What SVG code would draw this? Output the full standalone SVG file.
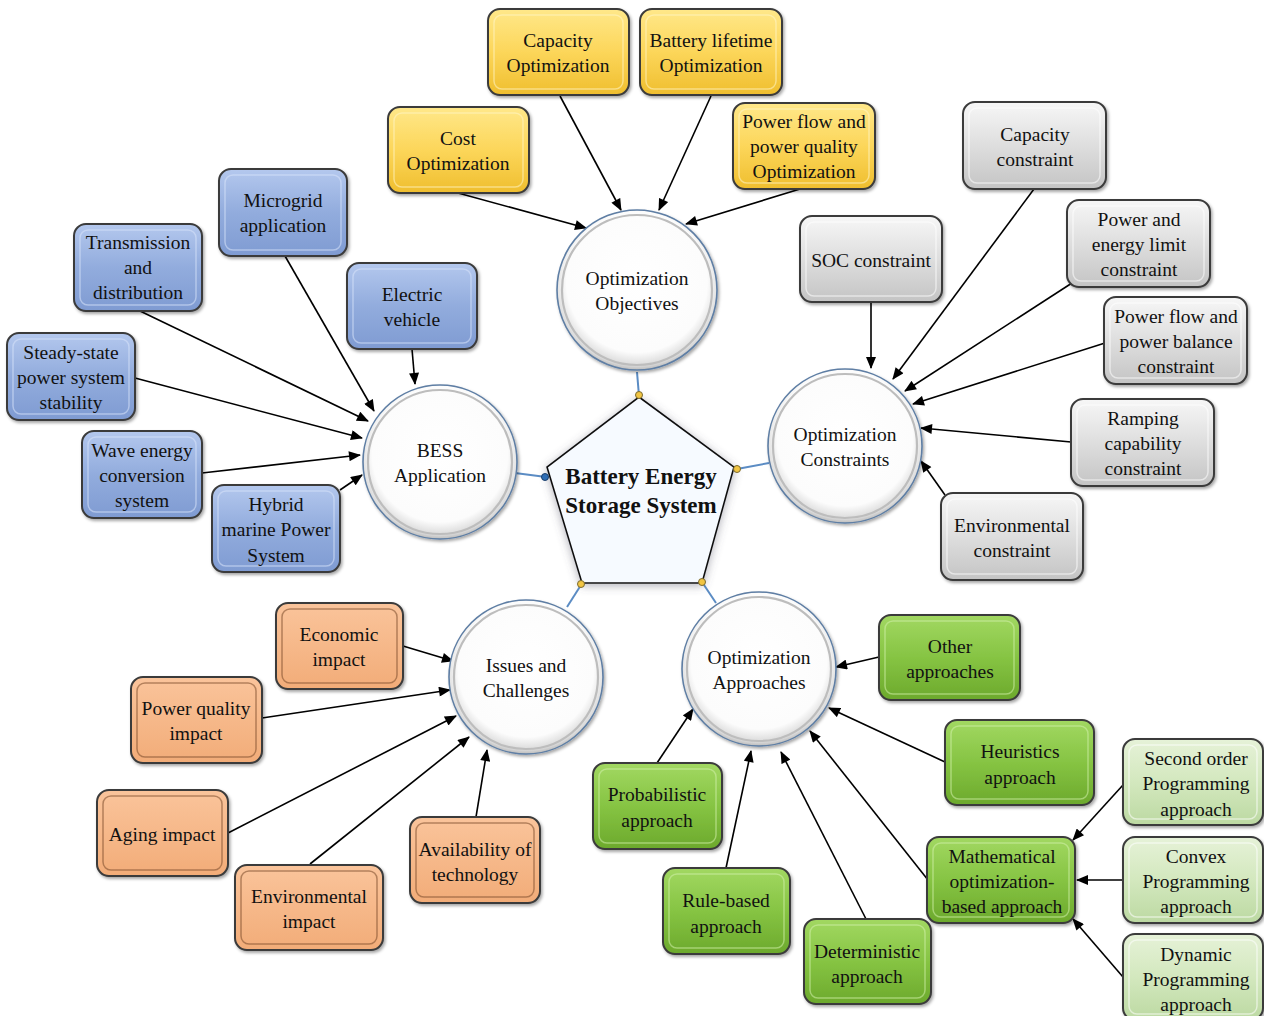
<svg xmlns="http://www.w3.org/2000/svg" width="1264" height="1016" viewBox="0 0 1264 1016">
<defs>
<linearGradient id="gY" x1="0" y1="0" x2="0" y2="1"><stop offset="0" stop-color="#FFE88A"/><stop offset="0.5" stop-color="#FCD65A"/><stop offset="1" stop-color="#EFBE2E"/></linearGradient>
<linearGradient id="gB" x1="0" y1="0" x2="0" y2="1"><stop offset="0" stop-color="#B4C8EE"/><stop offset="0.5" stop-color="#92ACDD"/><stop offset="1" stop-color="#7F9BD2"/></linearGradient>
<linearGradient id="gG" x1="0" y1="0" x2="0" y2="1"><stop offset="0" stop-color="#F7F7F7"/><stop offset="0.5" stop-color="#DEDEDE"/><stop offset="1" stop-color="#C4C4C4"/></linearGradient>
<linearGradient id="gO" x1="0" y1="0" x2="0" y2="1"><stop offset="0" stop-color="#FAC49B"/><stop offset="1" stop-color="#F2AC78"/></linearGradient>
<linearGradient id="gN" x1="0" y1="0" x2="0" y2="1"><stop offset="0" stop-color="#A2D862"/><stop offset="0.5" stop-color="#86C443"/><stop offset="1" stop-color="#6CA92C"/></linearGradient>
<linearGradient id="gL" x1="0" y1="0" x2="0" y2="1"><stop offset="0" stop-color="#E6F2D8"/><stop offset="0.5" stop-color="#D3E8BE"/><stop offset="1" stop-color="#BCD9A2"/></linearGradient>
<radialGradient id="gC" cx="0.5" cy="0.45" r="0.55"><stop offset="0" stop-color="#FFFFFF"/><stop offset="0.8" stop-color="#FCFCFC"/><stop offset="0.95" stop-color="#DADADA"/><stop offset="1" stop-color="#BBBBBB"/></radialGradient>
<filter id="sh" x="-20%" y="-20%" width="140%" height="140%"><feDropShadow dx="1.5" dy="2" stdDeviation="1.8" flood-color="#000" flood-opacity="0.35"/></filter>
<filter id="glow" x="-20%" y="-20%" width="140%" height="140%"><feDropShadow dx="0" dy="2" stdDeviation="5" flood-color="#556" flood-opacity="0.45"/></filter>
<marker id="ar" viewBox="0 0 12 10" refX="11" refY="5" markerWidth="13" markerHeight="10" markerUnits="userSpaceOnUse" orient="auto"><path d="M0,0 L12,5 L0,10 Z" fill="#000"/></marker>
<style>
.box{stroke:#3a3a3a;stroke-width:2;filter:url(#sh)}
.in{fill:none;stroke-width:1.5;stroke-opacity:0.55}
.y{fill:url(#gY)} .yi{stroke:#FFF6C8}
.b{fill:url(#gB)} .bi{stroke:#D8E4FA}
.g{fill:url(#gG)} .gi{stroke:#FFFFFF}
.o{fill:url(#gO)} .oi{stroke:#7a4a2a}
.n{fill:url(#gN)} .ni{stroke:#D2F0AA}
.l{fill:url(#gL)} .li{stroke:#FFFFFF}
text{font-family:"Liberation Serif","Times New Roman",serif;font-size:19.5px;fill:#111;text-anchor:middle}
.c{fill:url(#gC);stroke:#5E7EA4;stroke-width:1.6;filter:url(#sh)}
.ci{fill:none;stroke:#BDBDBD;stroke-width:2.2}
.cn line{stroke:#000;stroke-width:1.6;marker-end:url(#ar)}
.hub line{stroke:#5B8CC4;stroke-width:2}
.dot{fill:#F2C542;stroke:#7A6A30;stroke-width:1}
.title{font-weight:bold;font-size:23px}
</style>
</defs>
<rect width="1264" height="1016" fill="#FFFFFF"/>

<!-- hub connectors -->
<g class="hub" id="hub-links">
<line x1="637" y1="372" x2="639" y2="396"/>
<line x1="515" y1="473" x2="546" y2="477"/>
<line x1="769" y1="463" x2="737" y2="469"/>
<line x1="581" y1="585" x2="567" y2="607"/>
<line x1="702" y1="582" x2="716" y2="603"/>
</g>

<!-- connectors -->
<g class="cn" id="connectors">
<line x1="560" y1="96" x2="621" y2="210"/>
<line x1="711" y1="96" x2="659" y2="210"/>
<line x1="458" y1="193" x2="586" y2="228"/>
<line x1="800" y1="189" x2="686" y2="224"/>
<line x1="285" y1="256" x2="374" y2="411"/>
<line x1="140" y1="311" x2="368" y2="421"/>
<line x1="412" y1="349" x2="415" y2="384"/>
<line x1="135" y1="378" x2="362" y2="438"/>
<line x1="202" y1="473" x2="360" y2="455"/>
<line x1="340" y1="490" x2="362" y2="475"/>
<line x1="871" y1="302" x2="871" y2="368"/>
<line x1="1034" y1="189" x2="893" y2="379"/>
<line x1="1072" y1="283" x2="905" y2="391"/>
<line x1="1105" y1="343" x2="913" y2="404"/>
<line x1="1071" y1="442" x2="921" y2="428"/>
<line x1="945" y1="495" x2="921" y2="461"/>
<line x1="403" y1="646" x2="453" y2="661"/>
<line x1="262" y1="718" x2="450" y2="690"/>
<line x1="228" y1="833" x2="456" y2="716"/>
<line x1="310" y1="864" x2="469" y2="737"/>
<line x1="476" y1="817" x2="487" y2="750"/>
<line x1="879" y1="657" x2="836" y2="667"/>
<line x1="945" y1="762" x2="829" y2="708"/>
<line x1="657" y1="763" x2="693" y2="709"/>
<line x1="726" y1="868" x2="751" y2="751"/>
<line x1="866" y1="919" x2="781" y2="752"/>
<line x1="928" y1="880" x2="810" y2="731"/>
<line x1="1123" y1="785" x2="1073" y2="840"/>
<line x1="1123" y1="880" x2="1077" y2="880"/>
<line x1="1123" y1="977" x2="1073" y2="919"/>
</g>

<!-- central pentagon -->
<g id="bess-core">
<polygon points="639,397 734,467 702,583 582,583 547,467" fill="#F6FAFF" stroke="#111" stroke-width="1.6" filter="url(#glow)"/>
<text class="title" x="641" y="484">Battery Energy</text>
<text class="title" x="641" y="513">Storage System</text>
<circle class="dot" cx="639" cy="395" r="3.5"/>
<circle class="dot" cx="737" cy="469" r="3.5"/>
<circle cx="545" cy="477" r="3.5" fill="#2E6DB4" stroke="#1B3F6B"/>
<circle class="dot" cx="581" cy="584" r="3.5"/>
<circle class="dot" cx="702" cy="582" r="3.5"/>
</g>

<!-- hub circles -->
<g id="opt-objectives"><circle class="c" cx="637" cy="290" r="80"/><circle class="ci" cx="637" cy="290" r="75"/><text x="637" y="285">Optimization</text><text x="637" y="310">Objectives</text></g>
<g id="bess-application"><circle class="c" cx="440" cy="462" r="77"/><circle class="ci" cx="440" cy="462" r="72"/><text x="440" y="457">BESS</text><text x="440" y="482">Application</text></g>
<g id="opt-constraints"><circle class="c" cx="845" cy="446" r="77"/><circle class="ci" cx="845" cy="446" r="72"/><text x="845" y="441">Optimization</text><text x="845" y="466">Constraints</text></g>
<g id="issues"><circle class="c" cx="526" cy="677" r="77"/><circle class="ci" cx="526" cy="677" r="72"/><text x="526" y="672">Issues and</text><text x="526" y="697">Challenges</text></g>
<g id="opt-approaches"><circle class="c" cx="759" cy="669" r="77"/><circle class="ci" cx="759" cy="669" r="72"/><text x="759" y="664">Optimization</text><text x="759" y="689">Approaches</text></g>

<!-- yellow -->
<g id="capacity-opt"><rect class="box y" x="488" y="9" width="141" height="86" rx="12"/><rect class="in yi" x="494" y="15" width="129" height="74" rx="8"/><text x="558" y="47">Capacity</text><text x="558" y="72">Optimization</text></g>
<g id="lifetime-opt"><rect class="box y" x="640" y="9" width="142" height="86" rx="12"/><rect class="in yi" x="646" y="15" width="130" height="74" rx="8"/><text x="711" y="47">Battery lifetime</text><text x="711" y="72">Optimization</text></g>
<g id="cost-opt"><rect class="box y" x="388" y="107" width="141" height="86" rx="12"/><rect class="in yi" x="394" y="113" width="129" height="74" rx="8"/><text x="458" y="145">Cost</text><text x="458" y="170">Optimization</text></g>
<g id="powerflow-opt"><rect class="box y" x="733" y="103" width="142" height="86" rx="12"/><rect class="in yi" x="739" y="109" width="130" height="74" rx="8"/><text x="804" y="128">Power flow and</text><text x="804" y="153">power quality</text><text x="804" y="178">Optimization</text></g>

<!-- blue -->
<g id="microgrid"><rect class="box b" x="219" y="169" width="128" height="87" rx="12"/><rect class="in bi" x="225" y="175" width="116" height="75" rx="8"/><text x="283" y="207">Microgrid</text><text x="283" y="232">application</text></g>
<g id="transmission"><rect class="box b" x="74" y="224" width="128" height="87" rx="12"/><rect class="in bi" x="80" y="230" width="116" height="75" rx="8"/><text x="138" y="249">Transmission</text><text x="138" y="274">and</text><text x="138" y="299">distribution</text></g>
<g id="electric-vehicle"><rect class="box b" x="347" y="263" width="130" height="86" rx="12"/><rect class="in bi" x="353" y="269" width="118" height="74" rx="8"/><text x="412" y="301">Electric</text><text x="412" y="326">vehicle</text></g>
<g id="steady-state"><rect class="box b" x="7" y="333" width="128" height="87" rx="12"/><rect class="in bi" x="13" y="339" width="116" height="75" rx="8"/><text x="71" y="359">Steady-state</text><text x="71" y="384">power system</text><text x="71" y="409">stability</text></g>
<g id="wave-energy"><rect class="box b" x="82" y="431" width="120" height="87" rx="12"/><rect class="in bi" x="88" y="437" width="108" height="75" rx="8"/><text x="142" y="457">Wave energy</text><text x="142" y="482">conversion</text><text x="142" y="507">system</text></g>
<g id="hybrid-marine"><rect class="box b" x="212" y="485" width="128" height="87" rx="12"/><rect class="in bi" x="218" y="491" width="116" height="75" rx="8"/><text x="276" y="511">Hybrid</text><text x="276" y="536">marine Power</text><text x="276" y="562">System</text></g>

<!-- grey -->
<g id="capacity-con"><rect class="box g" x="963" y="102" width="143" height="87" rx="12"/><rect class="in gi" x="969" y="108" width="131" height="75" rx="8"/><text x="1035" y="141">Capacity</text><text x="1035" y="166">constraint</text></g>
<g id="soc-con"><rect class="box g" x="800" y="216" width="142" height="86" rx="12"/><rect class="in gi" x="806" y="222" width="130" height="74" rx="8"/><text x="871" y="267">SOC constraint</text></g>
<g id="power-energy-con"><rect class="box g" x="1067" y="200" width="143" height="87" rx="12"/><rect class="in gi" x="1073" y="206" width="131" height="75" rx="8"/><text x="1139" y="226">Power and</text><text x="1139" y="251">energy limit</text><text x="1139" y="276">constraint</text></g>
<g id="powerflow-con"><rect class="box g" x="1104" y="297" width="143" height="87" rx="12"/><rect class="in gi" x="1110" y="303" width="131" height="75" rx="8"/><text x="1176" y="323">Power flow and</text><text x="1176" y="348">power balance</text><text x="1176" y="373">constraint</text></g>
<g id="ramping-con"><rect class="box g" x="1071" y="399" width="143" height="87" rx="12"/><rect class="in gi" x="1077" y="405" width="131" height="75" rx="8"/><text x="1143" y="425">Ramping</text><text x="1143" y="450">capability</text><text x="1143" y="475">constraint</text></g>
<g id="environmental-con"><rect class="box g" x="941" y="493" width="142" height="87" rx="12"/><rect class="in gi" x="947" y="499" width="130" height="75" rx="8"/><text x="1012" y="532">Environmental</text><text x="1012" y="557">constraint</text></g>

<!-- orange -->
<g id="economic"><rect class="box o" x="276" y="603" width="127" height="86" rx="12"/><rect class="in oi" x="282" y="609" width="115" height="74" rx="8"/><text x="339" y="641">Economic</text><text x="339" y="666">impact</text></g>
<g id="power-quality"><rect class="box o" x="131" y="677" width="131" height="86" rx="12"/><rect class="in oi" x="137" y="683" width="119" height="74" rx="8"/><text x="196" y="715">Power quality</text><text x="196" y="740">impact</text></g>
<g id="aging"><rect class="box o" x="97" y="790" width="131" height="86" rx="12"/><rect class="in oi" x="103" y="796" width="119" height="74" rx="8"/><text x="162" y="841">Aging impact</text></g>
<g id="environmental-impact"><rect class="box o" x="235" y="865" width="148" height="85" rx="12"/><rect class="in oi" x="241" y="871" width="136" height="73" rx="8"/><text x="309" y="903">Environmental</text><text x="309" y="928">impact</text></g>
<g id="availability"><rect class="box o" x="410" y="817" width="130" height="86" rx="12"/><rect class="in oi" x="416" y="823" width="118" height="74" rx="8"/><text x="475" y="856">Availability of</text><text x="475" y="881">technology</text></g>

<!-- green -->
<g id="other"><rect class="box n" x="879" y="615" width="141" height="85" rx="12"/><rect class="in ni" x="885" y="621" width="129" height="73" rx="8"/><text x="950" y="653">Other</text><text x="950" y="678">approaches</text></g>
<g id="heuristics"><rect class="box n" x="945" y="720" width="149" height="85" rx="12"/><rect class="in ni" x="951" y="726" width="137" height="73" rx="8"/><text x="1020" y="758">Heuristics</text><text x="1020" y="784">approach</text></g>
<g id="probabilistic"><rect class="box n" x="593" y="763" width="129" height="86" rx="12"/><rect class="in ni" x="599" y="769" width="117" height="74" rx="8"/><text x="657" y="801">Probabilistic</text><text x="657" y="827">approach</text></g>
<g id="rule-based"><rect class="box n" x="663" y="868" width="127" height="86" rx="12"/><rect class="in ni" x="669" y="874" width="115" height="74" rx="8"/><text x="726" y="907">Rule-based</text><text x="726" y="933">approach</text></g>
<g id="deterministic"><rect class="box n" x="804" y="919" width="127" height="85" rx="12"/><rect class="in ni" x="810" y="925" width="115" height="73" rx="8"/><text x="867" y="958">Deterministic</text><text x="867" y="983">approach</text></g>
<g id="mathematical"><rect class="box n" x="927" y="837" width="148" height="86" rx="12"/><rect class="in ni" x="933" y="843" width="136" height="74" rx="8"/><text x="1002" y="863">Mathematical</text><text x="1002" y="888">optimization-</text><text x="1002" y="913">based approach</text></g>

<!-- light green -->
<g id="second-order"><rect class="box l" x="1123" y="739" width="140" height="86" rx="12"/><rect class="in li" x="1129" y="745" width="128" height="74" rx="8"/><text x="1196" y="765">Second order</text><text x="1196" y="790">Programming</text><text x="1196" y="816">approach</text></g>
<g id="convex"><rect class="box l" x="1123" y="837" width="140" height="86" rx="12"/><rect class="in li" x="1129" y="843" width="128" height="74" rx="8"/><text x="1196" y="863">Convex</text><text x="1196" y="888">Programming</text><text x="1196" y="913">approach</text></g>
<g id="dynamic"><rect class="box l" x="1123" y="934" width="140" height="86" rx="12"/><rect class="in li" x="1129" y="940" width="128" height="74" rx="8"/><text x="1196" y="961">Dynamic</text><text x="1196" y="986">Programming</text><text x="1196" y="1011">approach</text></g>
</svg>
